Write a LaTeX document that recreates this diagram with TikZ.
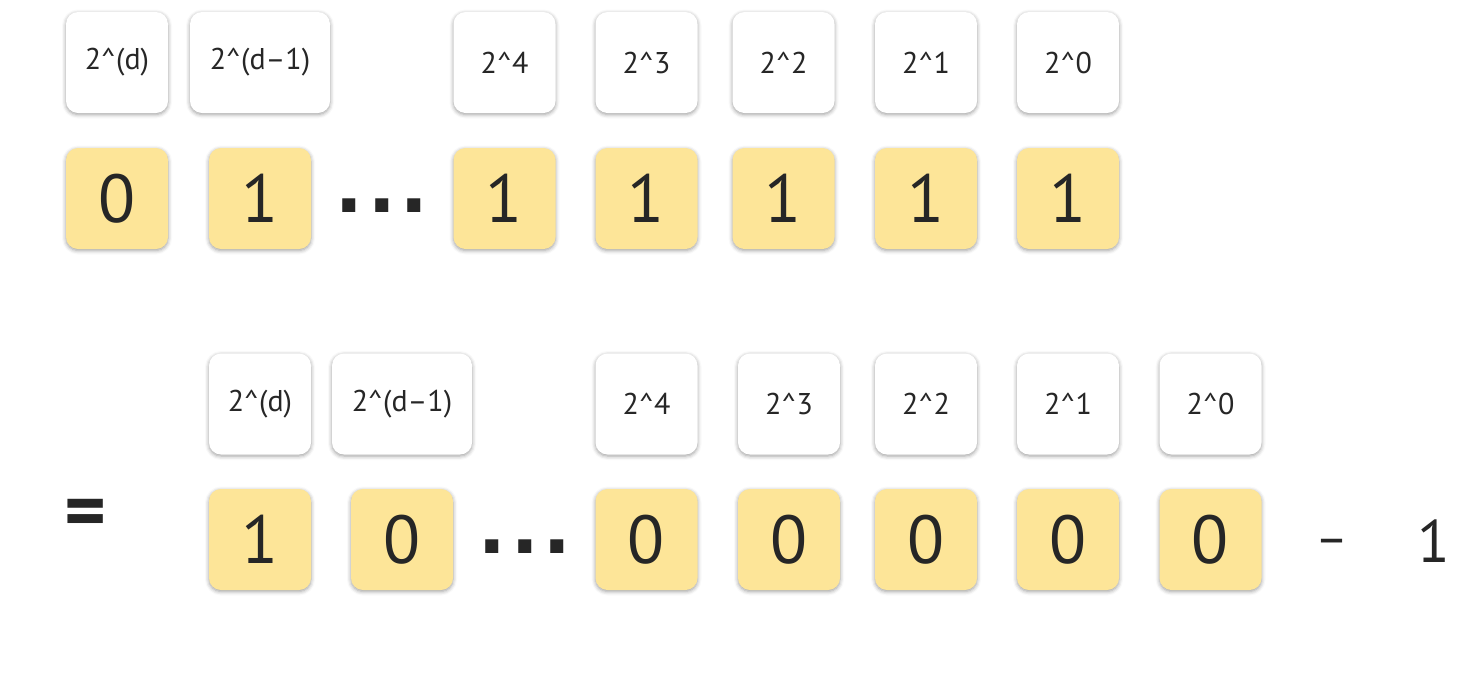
\documentclass[tikz,border=0pt]{standalone}
\usepackage{fontspec}
\setmainfont{PT Sans}
\newfontfamily\dotfont{Liberation Sans}
\usetikzlibrary{shadows.blur}

\definecolor{bitfill}{RGB}{253,229,152}
\definecolor{inkgray}{RGB}{38,38,38}

\tikzset{
    weightbox/.style={rounded corners=12pt, fill=white, text=inkgray,
        minimum width=102pt, minimum height=101pt, inner sep=0pt,
        font=\fontsize{30}{34}\selectfont,
        blur shadow={shadow xshift=0pt, shadow yshift=-1.5pt,
            shadow blur radius=4pt, shadow opacity=40}},
    widebox/.style={weightbox, minimum width=140pt},
    bitbox/.style={weightbox, fill=bitfill, font=\fontsize{68}{72}\selectfont},
    plaintxt/.style={text=inkgray, inner sep=0pt, font=\fontsize{68}{72}\selectfont},
    dotstxt/.style={plaintxt, anchor=base, font=\dotfont\fontsize{92}{92}\bfseries}
}

\begin{document}
\begin{tikzpicture}[x=1pt, y=-1pt]
    \useasboundingbox (0,0) rectangle (1483,689);

    % first number: 0 1 ... 1 1 1 1 1
    \node[weightbox] (wA1) at (117,62.5) {2\^{}(d)};
    \node[widebox]   (wA2) at (260,62.5) {2\^{}(d--1)};
    \foreach \x/\e [count=\i from 3] in {504.5/4, 646.5/3, 783.5/2, 926/1, 1068/0}
        \node[weightbox] (wA\i) at (\x,62.5) {2\^{}\e};

    \node[bitbox] (bA1) at (117,198.5) {0};
    \node[bitbox] (bA2) at (260,198.5) {1};
    \node[dotstxt] (dotsA) at (382,212) {.\hspace{7pt}.\hspace{7pt}.};
    \foreach \x [count=\i from 3] in {504.5, 646.5, 783.5, 926, 1068}
        \node[bitbox] (bA\i) at (\x,198.5) {1};

    % second number: 1 0 ... 0 0 0 0 0, minus one
    \node[plaintxt, font=\fontsize{80}{80}\bfseries] (eq) at (86,519) {=};

    \node[weightbox] (wB1) at (260,404) {2\^{}(d)};
    \node[widebox]   (wB2) at (402,404) {2\^{}(d--1)};
    \foreach \x/\e [count=\i from 3] in {646.5/4, 789/3, 926/2, 1068/1, 1210.5/0}
        \node[weightbox] (wB\i) at (\x,404) {2\^{}\e};

    \node[bitbox] (bB1) at (260,539.5) {1};
    \node[bitbox] (bB2) at (402,539.5) {0};
    \node[dotstxt] (dotsB) at (525,553) {.\hspace{7pt}.\hspace{7pt}.};
    \foreach \x [count=\i from 3] in {646.5, 789, 926, 1068, 1210.5}
        \node[bitbox] (bB\i) at (\x,539.5) {0};

    \node[plaintxt, font=\fontsize{50}{50}\selectfont] (minus) at (1332,547) {--};
    \node[plaintxt, font=\fontsize{60}{64}\selectfont] (one) at (1434,541) {1};
\end{tikzpicture}
\end{document}
